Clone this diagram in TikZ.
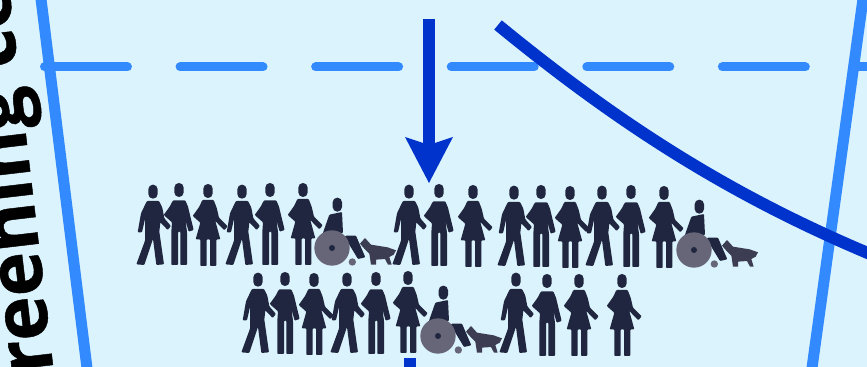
\documentclass[tikz,border=0pt]{standalone}
\usepackage{fontspec}
\setmainfont{Open Sans}
\newfontfamily\titlefont[BoldFeatures={FakeBold=0.6}]{Open Sans}
\definecolor{paleback}{HTML}{DBF3FC}
\definecolor{laneblue}{HTML}{338AFF}
\definecolor{flowblue}{HTML}{0033CC}
\definecolor{figdark}{HTML}{20263F}
\definecolor{chairgrey}{HTML}{666678}
\definecolor{doggrey}{HTML}{3C3C52}
\tikzset{
  laneline/.style={draw=laneblue, line width=0.22cm},
  flowline/.style={draw=flowblue, line width=0.24cm},
  figfill/.style={fill=figdark, rounded corners=0.5pt},
  chairfill/.style={fill=chairgrey}
}
\begin{document}
\begin{tikzpicture}[x=0.02cm, y=-0.02cm]
  \def\headfig#1#2{\fill[fill=figdark, rounded corners=2.6pt] (#1-14,#2-21) rectangle (#1+14,#2+21);}
  \def\walkerfig{\headfig{0}{-220}
    \fill[figfill] (-18,-192) -- (18,-192) -- (28,-172) -- (34,-140) -- (54,-117) -- (44,-105) -- (22,-128)
      -- (19,-100) -- (33,-2) -- (10,0) -- (0,-78) -- (-26,0) -- (-50,-2) -- (-24,-73)
      -- (-24,-138) -- (-33,-98) -- (-46,-98) -- (-36,-155) -- (-28,-172) -- cycle;}
  \def\manfig{\headfig{0}{-225}
    \fill[figfill] (-18,-194) -- (19,-194) -- (27,-175) -- (33,-150) -- (44,-105) -- (29,-100) -- (19,-135)
      -- (24,-100) -- (24,0) -- (4,0) -- (4,-100) -- (-3,-100) -- (-3,0) -- (-23,0)
      -- (-23,-100) -- (-21,-128) -- (-46,-150) -- (-28,-175) -- cycle;}
  \def\womanfig{\headfig{0}{-225}
    \fill[figfill] (-17,-198) -- (17,-198) -- (26,-175) -- (33,-145) -- (59,-119) -- (49,-107) -- (22,-135)
      -- (37,-80) -- (25,-80) -- (25,0) -- (6,0) -- (6,-80) -- (-4,-80) -- (-4,0) -- (-23,0)
      -- (-23,-80) -- (-37,-80) -- (-23,-130) -- (-46,-150) -- (-26,-178) -- cycle;}
  \def\wheelfig{\headfig{16}{-130}
    \fill[figfill] (-8,-100) -- (30,-108) -- (33,-45) -- (-8,-45) -- (-18,-38) -- (-29,-40) -- cycle;
    \fill[figfill] (40,-37) -- (72,-37) -- (100,28) -- (78,33) -- (50,-13) -- (35,-13) -- cycle;
    \fill[chairfill] (0,0) circle (53);
    \fill[fill=figdark] (0,0) circle (9);
    \fill[chairfill] (61,42) circle (11);
    \fill[fill=doggrey] (84,-13) -- (99,-30) -- (117,-10) -- (167,-2) -- (192,7) -- (185,20) -- (172,27)
      -- (179,50) -- (168,50) -- (159,33) -- (132,35) -- (132,50) -- (117,50) -- (112,17) -- (97,2) -- cycle;}
  \fill[paleback] (0,0) rectangle (867,367);
  \useasboundingbox (0,0) rectangle (867,367);
  % lanes
  \coordinate (laneLtop) at (41,-1);
  \coordinate (laneLbot) at (87,368);
  \coordinate (laneRtop) at (863,-1);
  \coordinate (laneRbot) at (812,368);
  \coordinate (dashL) at (44.5,67);
  \coordinate (dashR) at (875,67);
  \draw[laneline, line width=0.18cm, line cap=round, dash pattern=on 1.66cm off 1.052cm] (dashL) -- (dashR);
  \draw[laneline] (laneLtop) -- (laneLbot);
  \draw[laneline] (laneRtop) -- (laneRbot);
  % flows
  \coordinate (flowtop) at (429,19);
  \coordinate (flowtip) at (429,183);
  \coordinate (curvetop) at (498,25);
  \coordinate (curvebot) at (870,254);
  \coordinate (stubtop) at (410,358);
  \coordinate (stubbot) at (410,368);
  \draw[flowline] (flowtop) -- (429,145);
  \fill[flowblue] (flowtip) -- (405,137) -- (429,145) -- (453,137) -- cycle;
  \draw[flowline] (curvetop) .. controls (620,125) and (730,195) .. (curvebot);
  \draw[flowline] (stubtop) -- (stubbot);
  % people
  \foreach \xpos/\ypos/\fig in {153/265/walkerfig, 179/265/manfig, 208/266/womanfig, 242/265/walkerfig,
      270/265/manfig, 303/265/womanfig, 332/248/wheelfig,
      409/265/walkerfig, 439/266/manfig, 473/267/womanfig, 514/266/walkerfig, 541/267/manfig,
      570/268/womanfig, 602/266/walkerfig, 631/267/manfig, 664/268/womanfig, 694/250/wheelfig,
      258/353/walkerfig, 285/354/manfig, 314/355/womanfig, 347/353/walkerfig, 376/354/manfig,
      408/353/womanfig, 438/336/wheelfig, 516/353/walkerfig, 547/356/manfig, 579/356/womanfig, 622/356/womanfig} {
    \begin{scope}[shift={(\xpos,\ypos)}, scale=1/3]
      \csname\fig\endcsname
    \end{scope}
  }
  % side title
  \node[anchor=base west, inner sep=0pt, rotate=96.7, font=\titlefont\bfseries\fontsize{43}{48}\selectfont] (sidetitle)
    at (63,451) {Screening ce};
\end{tikzpicture}
\end{document}
